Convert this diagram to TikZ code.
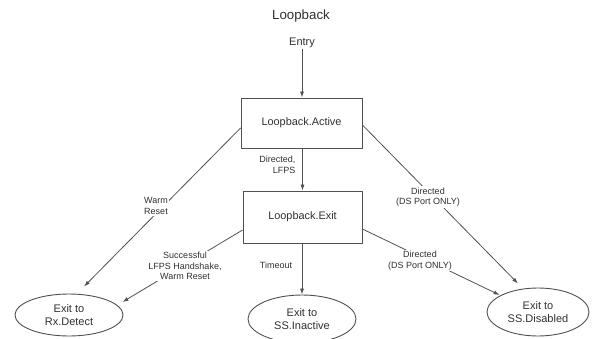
\documentclass[tikz,border=0pt]{standalone}
\usepackage{fontspec}
\setmainfont{Liberation Sans}
\usetikzlibrary{shapes.geometric,arrows.meta}
\definecolor{linecol}{HTML}{505050}
\definecolor{textcol}{HTML}{303030}
\tikzset{
  statebox/.style={draw=linecol,line width=0.9pt,rectangle,inner sep=0pt,
    text=textcol,font=\fontsize{10.9}{13}\selectfont},
  exitstate/.style={draw=linecol,line width=0.9pt,ellipse,inner sep=0pt,
    align=center,text=textcol,font=\fontsize{11}{12.5}\selectfont},
  trans/.style={draw=linecol,line width=0.8pt,-{Latex[length=6pt,width=4pt]}},
  cond/.style={align=center,text=textcol,font=\fontsize{9}{10.6}\selectfont,
    inner sep=1.5pt},
  condcut/.style={cond,fill=white},
}
\begin{document}
\begin{tikzpicture}[x=1pt,y=-1pt]
  \useasboundingbox (0,0) rectangle (592,338);

  % title and entry point
  \node[text=textcol,font=\fontsize{13.3}{15}\selectfont] (title) at (301,16) {Loopback};
  \node[text=textcol,font=\fontsize{11}{13}\selectfont,inner sep=1pt] (entry) at (302,43) {Entry};

  % substates
  \node[statebox,minimum width=121pt,minimum height=50pt] (active) at (301.5,123) {Loopback.Active};
  \node[statebox,minimum width=119pt,minimum height=52pt] (exit) at (302.5,217) {Loopback.Exit};

  % exit targets
  \node[exitstate,minimum width=108pt,minimum height=42pt] (rx) at (69,315) {Exit to\\Rx.Detect};
  \node[exitstate,minimum width=108pt,minimum height=48pt] (inact) at (302,319) {Exit to\\SS.Inactive};
  \node[exitstate,minimum width=102pt,minimum height=48pt] (dis) at (538,312) {Exit to\\SS.Disabled};

  % transitions
  \draw[trans] (entry.south) -- (entry.south |- active.north);
  \draw[trans] (active.south -| exit.north) -- (exit.north);
  \draw[trans] ([yshift=-5pt]active.west) -- ([xshift=15pt,yshift=7pt]rx.north);
  \draw[trans] ([yshift=-13pt]exit.west) -- ([xshift=-1pt,yshift=13pt]rx.east);
  \draw[trans] (exit.south -| inact.north) -- (inact.north);
  \draw[trans] ([yshift=-12pt]exit.east) -- ([xshift=13pt,yshift=17pt]dis.west);
  \draw[trans] ([yshift=-2pt]active.east) -- ([xshift=-20pt,yshift=4pt]dis.north);

  % transition conditions
  \node[condcut] (lwarm) at (156,206) {Warm\\Reset};
  \node[cond,anchor=east,align=right] (llfps) at (297,164.5) {Directed,\\LFPS};
  \node[condcut] (lsucc) at (185,266) {Successful\\LFPS Handshake,\\Warm Reset};
  \node[cond] (ltime) at (276,265) {Timeout};
  \node[condcut] (lds1) at (428,197) {Directed\\(DS Port ONLY)};
  \node[condcut] (lds2) at (420,260.5) {Directed\\(DS Port ONLY)};
\end{tikzpicture}
\end{document}
